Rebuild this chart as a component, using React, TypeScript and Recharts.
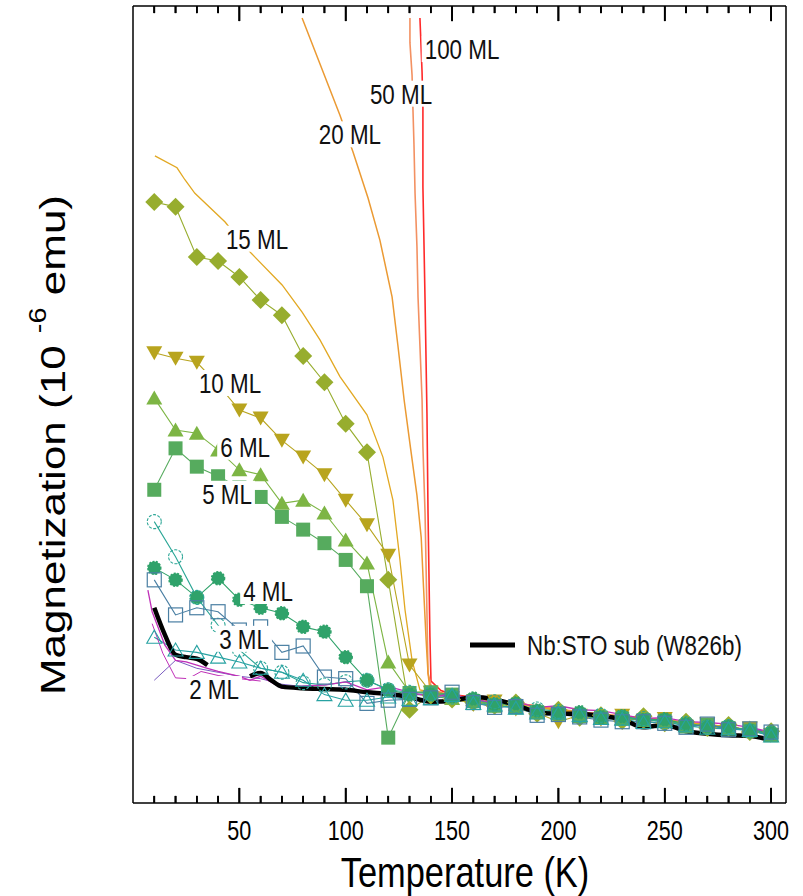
import React from 'react';
import { LineChart, Line, XAxis, YAxis, Legend, Label, ReferenceLine } from 'recharts';

type P = [number, number | null];

// ---------- tick labels ----------
const xTicks = [10, 20, 30, 40, 50, 60, 70, 80, 90, 100, 110, 120, 130, 140, 150, 160, 170, 180, 190, 200, 210, 220, 230, 240, 250, 260, 270, 280, 290, 300];
const xMajor = [50, 100, 150, 200, 250, 300];
const X_MAX = 307;
const Y_MAX = 100;
const MAJOR_LEN = 1.9; // tick length in y-data units
const MINOR_LEN = 0.9;

// ---------- series (T in K, M in arbitrary 10^-6 emu units) ----------
const ml100: P[] = [[134.9, 98.5], [135.9, 91.7], [136.3, 87.2], [136.3, 77.3], [137.3, 63.1], [138.2, 48.9], [138.7, 36.4], [139.6, 20.8], [140.1, 15.3], [144.8, 14.1], [150, 13.6], [175, 12.8], [200, 11.7], [225, 11.0], [250, 10.4], [275, 9.6], [300, 8.9]];
const ml50: P[] = [[130.2, 98.5], [130.2, 95.4], [131.2, 91.3], [131.6, 87.2], [132.1, 82.6], [132.6, 76.5], [133.5, 69.8], [134.0, 63.5], [135.9, 50.6], [136.3, 44.7], [137.3, 36.4], [138.2, 23.8], [138.7, 16.3], [140.6, 14.2], [150, 13.4], [175, 12.7], [200, 11.8], [225, 10.9], [250, 10.3], [275, 9.7], [300, 8.8]];
const ml20: P[] = [[79.5, 98.5], [97.3, 86.3], [103.4, 81.7], [110.5, 75.9], [116.1, 70.6], [121.8, 63.5], [124.5, 57.5], [127.5, 50.5], [130.5, 44.5], [133.5, 38.6], [135.5, 33.3], [136.6, 27.0], [137.8, 20.5], [138.7, 16.3], [139.6, 14.2], [150, 13.5], [175, 12.7], [200, 11.7], [225, 11.0], [250, 10.4], [275, 9.7], [300, 8.8]];
const ml15: P[] = [[10.3, 81.2], [20.7, 79.7], [24.4, 78.2], [29.1, 76.5], [43.3, 72.9], [49, 71.0], [55.5, 69.0], [70.1, 65.0], [79.5, 61.6], [87.9, 58.1], [97.3, 53.5], [110, 48.7], [117.5, 43.4], [122.2, 38.0], [125.5, 30.5], [127.9, 24.2], [131.2, 17.9], [134.9, 14.2], [150, 13.4], [175, 12.6], [200, 11.6], [225, 10.9], [250, 10.4], [275, 9.6], [300, 8.8]];
const diamonds: P[] = [[10, 75.4], [20, 74.8], [30, 68.5], [40, 68.0], [50, 66.0], [60, 63.1], [70, 61.2], [80, 56.1], [90, 52.8], [100, 47.6], [110, 44.0], [120, 28.0], [130, 11.7], [140, 13.5], [150, 13.0], [160, 12.6], [170, 12.2], [180, 12.6], [190, 11.2], [200, 11.7], [210, 10.7], [220, 11.0], [230, 10.3], [240, 10.9], [250, 10.0], [260, 10.2], [270, 9.4], [280, 9.8], [290, 8.9], [300, 9.0]];
const ml10: P[] = [[10, 56.5], [20, 55.8], [30, 55.3], [40, 52.5], [50, 49.3], [60, 48.3], [70, 45.5], [80, 43.4], [90, 41.2], [100, 38.0], [110, 34.9], [120, 31.1], [130, 17.3], [140, 13.9], [150, 13.2], [160, 12.4], [170, 12.8], [180, 11.8], [190, 11.3], [200, 10.2], [210, 11.0], [220, 10.5], [230, 11.0], [240, 10.1], [250, 10.6], [260, 9.6], [270, 9.9], [280, 9.2], [290, 9.4], [300, 8.6]];
const ml6: P[] = [[10, 50.8], [20, 46.8], [30, 46.4], [40, 44.3], [50, 41.8], [60, 41.2], [70, 37.6], [80, 38.0], [90, 36.4], [100, 33.0], [110, 30.1], [120, 17.7], [130, 13.9], [140, 14.0], [150, 13.1], [160, 13.0], [170, 12.2], [180, 12.4], [190, 11.5], [200, 11.6], [210, 10.9], [220, 11.1], [230, 10.6], [240, 10.4], [250, 10.5], [260, 9.8], [270, 9.8], [280, 9.3], [290, 9.4], [300, 8.5]];
const ml5: P[] = [[10, 39.3], [20, 44.5], [30, 42.2], [40, 41.0], [50, 39.6], [60, 38.4], [70, 35.9], [80, 34.3], [90, 32.6], [100, 30.5], [110, 27.2], [120, 8.2], [130, 13.8], [140, 13.9], [150, 13.6], [160, 12.8], [170, 12.2], [180, 12.0], [190, 11.4], [200, 11.2], [210, 10.9], [220, 10.7], [230, 10.6], [240, 10.4], [250, 10.3], [260, 9.6], [270, 9.8], [280, 9.4], [290, 9.1], [300, 8.5]];
const ml4: P[] = [[10, 29.5], [20, 28.0], [30, 25.8], [40, 28.2], [50, 25.5], [60, 24.5], [70, 23.8], [80, 22.1], [90, 21.5], [100, 18.3], [110, 15.4], [120, 14.2], [130, 13.6], [140, 13.6], [150, 13.4], [160, 13.1], [170, 12.4], [180, 12.5], [190, 11.6], [200, 11.3], [210, 11.4], [220, 10.8], [230, 10.9], [240, 10.4], [250, 10.5], [260, 9.9], [270, 9.6], [280, 9.6], [290, 9.1], [300, 8.8]];
const ml3: P[] = [[10, 28.0], [20, 23.6], [30, 24.5], [40, 24.0], [50, 21.7], [60, 22.1], [70, 18.9], [80, 19.7], [90, 15.8], [100, 15.6], [110, 12.5], [120, 12.9], [130, 13.0], [140, 13.2], [150, 13.9], [160, 12.6], [170, 12.0], [180, 12.1], [190, 11.0], [200, 11.1], [210, 10.8], [220, 10.4], [230, 10.2], [240, 10.2], [250, 10.0], [260, 9.5], [270, 9.9], [280, 9.2], [290, 9.3], [300, 8.9]];
const openCircles: P[] = [[10, 35.3], [20, 30.9], [30, 25.8], [40, 22.3], [50, 19.2], [60, 16.9], [70, 16.4], [80, 15.1], [90, 14.8], [100, 15.2], [110, 15.4], [120, 14.2], [130, 13.9], [140, 13.7], [150, 13.3], [160, 12.7], [170, 12.7], [180, 12.2], [190, 11.8], [200, 11.5], [210, 11.0], [220, 11.0], [230, 10.7], [240, 10.6], [250, 10.1], [260, 10.0], [270, 9.5], [280, 9.6], [290, 9.0], [300, 8.8]];
const ml2: P[] = [[10, 20.8], [20, 19.2], [30, 18.9], [40, 18.3], [50, 17.7], [60, 16.9], [70, 16.4], [80, 15.4], [90, 13.6], [100, 12.9], [110, 12.9], [120, 13.3], [130, 13.0], [140, 13.1], [150, 13.5], [160, 12.5], [170, 12.3], [180, 11.9], [190, 11.3], [200, 11.3], [210, 11.0], [220, 10.6], [230, 10.5], [240, 10.1], [250, 10.2], [260, 9.7], [270, 9.4], [280, 9.3], [290, 9.1], [300, 8.4]];
const magenta: P[] = [[7, 26.7], [9, 24.0], [15, 19.8], [20, 17.9], [25, 17.7], [30, 17.3], [35, 16.9], [40, 16.5], [50, 15.9], [55, 15.4], [60, 15.9], [70, 14.4], [80, 14.7], [90, 14.8], [100, 15.2], [110, 14.2], [120, 14.6], [130, 13.9], [140, 13.3], [150, 13.6], [160, 13.0], [170, 12.6], [180, 12.7], [190, 12.0], [200, 12.2], [210, 11.7], [220, 11.6], [230, 11.1], [240, 10.6], [250, 10.7], [260, 10.2], [270, 10.1], [280, 9.9], [290, 9.5], [300, 8.9]];
const magenta2: P[] = [[9, 22.5], [14, 18.8], [20, 15.7], [26, 15.6], [32, 16.5], [40, 16.0], [50, 15.6], [60, 15.3]];
const purple: P[] = [[10, 15.4], [20, 17.9], [30, 16.9], [40, 16.4], [50, 15.9], [60, 15.6], [70, 14.9], [80, 14.6], [90, 14.3], [100, 14.5]];
const substrate: P[] = [[10, 24.5], [15, 21.1], [20, 18.6], [25, 18.3], [30, 18.1], [35, 17.3], [45, null], [55, 15.9], [60, 16.3], [65, 15.4], [70, 14.6], [80, 14.4], [90, 14.3], [100, 14.2], [110, 13.9], [120, 13.7], [130, 13.3], [140, 12.7], [150, 12.8], [160, 13.3], [170, 13.0], [180, 12.3], [190, 11.4], [200, 11.2], [210, 11.2], [220, 10.9], [230, 10.5], [240, 9.5], [250, 9.8], [260, 9.0], [270, 8.7], [280, 8.5], [290, 8.4], [300, 7.9]];

// annotation anchors (data coordinates)
const labelTexts = ['100 ML', '50 ML', '20 ML', '15 ML', '10 ML', '6 ML', '5 ML', '4 ML', '3 ML', '2 ML'];
const labelT = [154.7, 126, 102, 58.3, 45.6, 52.7, 44.2, 63.5, 52.2, 38.1];
const labelM = [94.6, 89.0, 83.9, 70.8, 52.7, 44.7, 38.8, 26.6, 20.6, 14.3];

const toRows = (pts: P[]) => pts.map(([T, M]) => ({ T, M }));
const labelRows = labelTexts.map((text, i) => ({ T: labelT[i], M: labelM[i], text }));
const bottomTickRows = xTicks.map((T) => ({ T, M: 0 }));
const topTickRows = xTicks.map((T) => ({ T, M: Y_MAX }));

const FONT = '"Liberation Sans", Arial, Helvetica, sans-serif';
const SX = 0.8;
const PLOT_TOP = 6;

const charW: Record<string, number> = { ' ': 0.278, M: 0.833, L: 0.556 };
const textWidth = (s: string, size: number) =>
  s.split('').reduce((a, c) => a + (charW[c] ?? 0.556), 0) * size * SX;

const marker = (kind: string, color: string) => (p: any) => {
  const { cx, cy, index, value } = p;
  const key = `${kind}-${index}`;
  if (cx == null || cy == null || value == null || Number.isNaN(cx) || Number.isNaN(cy)) return <g key={key} />;
  switch (kind) {
    case 'diamond':
      return <polygon key={key} points={`${cx},${cy - 9} ${cx + 9},${cy} ${cx},${cy + 9} ${cx - 9},${cy}`} fill={color} />;
    case 'down':
      return <polygon key={key} points={`${cx - 8},${cy - 6.5} ${cx + 8},${cy - 6.5} ${cx},${cy + 7.5}`} fill={color} />;
    case 'up':
      return <polygon key={key} points={`${cx - 8},${cy + 6.5} ${cx + 8},${cy + 6.5} ${cx},${cy - 7.5}`} fill={color} />;
    case 'square':
      return <rect key={key} x={cx - 7} y={cy - 7} width={14} height={14} fill={color} />;
    case 'circle':
      return <circle key={key} cx={cx} cy={cy} r={6.5} fill={color} stroke={color} strokeWidth={1.5} strokeDasharray="2 1.5" />;
    case 'osquare':
      return <rect key={key} x={cx - 7} y={cy - 7} width={14} height={14} fill="none" stroke={color} strokeWidth={1.2} />;
    case 'ocircle':
      return <circle key={key} cx={cx} cy={cy} r={7} fill="none" stroke={color} strokeWidth={1.1} strokeDasharray="3 1.5" />;
    case 'otri':
      return <polygon key={key} points={`${cx - 7.5},${cy + 6} ${cx + 7.5},${cy + 6} ${cx},${cy - 7}`} fill="none" stroke={color} strokeWidth={1.1} />;
    default:
      return <g key={key} />;
  }
};

// inward tick marks drawn as dots on the frame edges (dir -1: up from bottom, +1: down from top)
const tickMark = (dir: number) => (p: any) => {
  const { cx, cy, index, payload } = p;
  const key = `tick-${dir}-${index}`;
  if (cx == null || cy == null || !payload) return <g key={key} />;
  const len = xMajor.includes(payload.T) ? 15 : 7;
  return (
    <path
      key={key}
      d={`M${cx},${cy}L${cx},${cy + dir * len}`}
      stroke="#000"
      strokeWidth={1.6}
      fill="none"
    />
  );
};

// bottom tick marks + labels, with mirrored marks on the top frame edge
const BottomTick = (props: any) => {
  const { x, y, payload } = props;
  const v = payload.value;
  const major = xMajor.includes(v);
  const len = major ? 15 : 7;
  const ax = Number(x);
  const ay = Number(y);
  return (
    <g>
      <line x1={ax} x2={ax} y1={ay} y2={ay - len} stroke="#000" strokeWidth={1.6} />
      <line x1={ax} x2={ax} y1={PLOT_TOP} y2={PLOT_TOP + len} stroke="#000" strokeWidth={1.6} />
      {major && (
        <text transform={`translate(${ax},${ay + 37}) scale(${SX},1)`} textAnchor="middle" fontSize={27} fontFamily={FONT} fill="#000" stroke="none">
          {v}
        </text>
      )}
    </g>
  );
};

const nameTag = (p: any) => {
  const { cx, cy, index, payload } = p;
  const key = `tag-${index}`;
  if (cx == null || cy == null || !payload) return <g key={key} />;
  const text: string = payload.text;
  const w = textWidth(text, 28) + 6;
  return (
    <g key={key}>
      <rect x={cx - w / 2} y={cy - 13} width={w} height={26} fill="#fff" stroke="none" />
      <text transform={`translate(${cx},${cy + 10}) scale(${SX},1)`} textAnchor="middle" fontSize={28} fontFamily={FONT} fill="#111" stroke="none">
        {text}
      </text>
    </g>
  );
};

// both axis titles, drawn as the bottom axis label content
const Titles = () => (
  <g>
    <text transform={`translate(465,887) scale(${SX},1)`} textAnchor="middle" fontSize={43} fontFamily={FONT} fill="#000">
      Temperature (K)
    </text>
    <text transform={`translate(65,445) scale(${SX},1) rotate(-90)`} textAnchor="middle" fontSize={44} fontFamily={FONT} fill="#000">
      Magnetization (10 <tspan fontSize={29} dy={-24}>-6</tspan>
      <tspan dy={24}> emu)</tspan>
    </text>
  </g>
);

const LegendBox = () => (
  <svg width={330} height={36} style={{ display: 'block' }}>
    <line x1={6} x2={51} y1={17} y2={17} stroke="#000" strokeWidth={5} />
    <text transform={`translate(63,27) scale(${SX},1)`} fontSize={28} fontFamily={FONT} fill="#111">
      Nb:STO sub (W826b)
    </text>
  </svg>
);

type S = { name: string; pts: P[]; color: string; width: number; kind?: string; type?: 'linear' | 'monotone' };
const seriesList: S[] = [
  { name: '100 ML', pts: ml100, color: '#ff2a2a', width: 1.6 },
  { name: '50 ML', pts: ml50, color: '#f39162', width: 1.6 },
  { name: '20 ML', pts: ml20, color: '#eb9a33', width: 1.5 },
  { name: '15 ML', pts: ml15, color: '#e2a822', width: 1.3 },
  { name: 'diamonds', pts: diamonds, color: '#97ad2e', width: 1.1, kind: 'diamond' },
  { name: '10 ML', pts: ml10, color: '#b8a41e', width: 1.1, kind: 'down' },
  { name: '6 ML', pts: ml6, color: '#7db544', width: 1.1, kind: 'up' },
  { name: '5 ML', pts: ml5, color: '#56ab5e', width: 1.1, kind: 'square' },
  { name: '4 ML', pts: ml4, color: '#2fa26a', width: 1.1, kind: 'circle' },
  { name: 'open circles', pts: openCircles, color: '#2ba696', width: 1.1, kind: 'ocircle' },
  { name: '3 ML', pts: ml3, color: '#4a7fa3', width: 1.1, kind: 'osquare' },
  { name: '2 ML', pts: ml2, color: '#27a2a2', width: 1.1, kind: 'otri' },
  { name: 'purple', pts: purple, color: '#7a5cc0', width: 1.0 },
  { name: 'magenta2', pts: magenta2, color: '#c030b8', width: 1.0 },
  { name: 'magenta', pts: magenta, color: '#c030b8', width: 1.3 },
  { name: 'Nb:STO sub (W826b)', pts: substrate, color: '#000', width: 4.5, type: 'monotone' },
];

export default function App() {
  return (
    <div style={{ position: 'absolute', left: 0, top: 0, background: '#fff' }}>
      <LineChart width={803} height={896} margin={{ top: 6, right: 17, bottom: 33, left: 133 }}>
        <XAxis
          type="number"
          dataKey="T"
          domain={[0, X_MAX]}
          ticks={xTicks}
          interval={0}
          tickSize={0}
          tickMargin={0}
          tickLine={false}
          tick={<BottomTick />}
          axisLine={{ stroke: '#000', strokeWidth: 1.5 }}
          height={60}
          allowDataOverflow
        >
          <Label content={<Titles />} />
        </XAxis>
        <YAxis type="number" domain={[0, Y_MAX]} tick={false} tickLine={false} width={0} axisLine={false} allowDataOverflow />
        <ReferenceLine x={0} stroke="#000" strokeWidth={1.5} ifOverflow="visible" />
        <ReferenceLine y={Y_MAX} stroke="#000" strokeWidth={1.5} ifOverflow="visible" />
        <ReferenceLine x={X_MAX} stroke="#000" strokeWidth={1.5} ifOverflow="visible" />
        {xTicks.map((t) => (
          <ReferenceLine
            key={`bt-${t}`}
            segment={[{ x: t, y: 0 }, { x: t, y: xMajor.includes(t) ? MAJOR_LEN : MINOR_LEN }]}
            stroke="#000"
            strokeWidth={1.6}
            ifOverflow="visible"
          />
        ))}
        {xTicks.map((t) => (
          <ReferenceLine
            key={`tt-${t}`}
            segment={[{ x: t, y: Y_MAX }, { x: t, y: Y_MAX - (xMajor.includes(t) ? MAJOR_LEN : MINOR_LEN) }]}
            stroke="#000"
            strokeWidth={1.6}
            ifOverflow="visible"
          />
        ))}
        {seriesList.map((s) => (
          <Line
            key={s.name}
            name={s.name}
            data={toRows(s.pts)}
            dataKey="M"
            type={s.type ?? 'linear'}
            stroke={s.color}
            strokeWidth={s.width}
            dot={s.kind ? marker(s.kind, s.color) : false}
            activeDot={false}
            isAnimationActive={false}
            connectNulls={false}
            legendType="none"
          />
        ))}
        <Line name="bottom ticks" data={bottomTickRows} dataKey="M" stroke="none" dot={tickMark(-1)} activeDot={false} isAnimationActive={false} legendType="none" />
        <Line name="top ticks" data={topTickRows} dataKey="M" stroke="none" dot={tickMark(1)} activeDot={false} isAnimationActive={false} legendType="none" />
        <Line
          name="labels"
          data={labelRows}
          dataKey="M"
          stroke="none"
          dot={nameTag}
          activeDot={false}
          isAnimationActive={false}
          legendType="none"
        />
        <Legend
          layout="vertical"
          align="center"
          verticalAlign="middle"
          wrapperStyle={{ left: 464, top: 628, width: 330, height: 36 }}
          content={() => <LegendBox />}
        />
      </LineChart>
    </div>
  );
}
